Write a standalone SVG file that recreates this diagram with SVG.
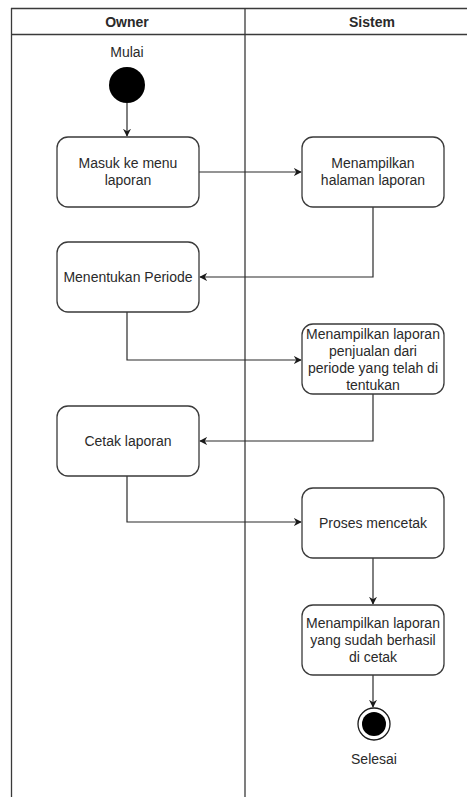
<svg xmlns="http://www.w3.org/2000/svg" width="467" height="797" viewBox="0 0 467 797">
  <style>
    .lane { fill: none; stroke: #3a3a3a; stroke-width: 1.3; }
    .box { fill: #ffffff; stroke: #3a3a3a; stroke-width: 1.3; }
    .t { font-family: "Liberation Sans", Arial, sans-serif; font-size: 14px; fill: #2a2a2a; text-anchor: middle; }
    .h { font-weight: bold; }
    .edge { fill: none; stroke: #2a2a2a; stroke-width: 1.2; marker-end: url(#arr); }
  </style>
  <defs>
    <marker id="arr" viewBox="0 0 10 10" refX="9" refY="5" markerWidth="8" markerHeight="8" markerUnits="userSpaceOnUse" orient="auto">
      <path d="M0,0 L10,5 L0,10 L3,5 Z" fill="#1a1a1a"/>
    </marker>
  </defs>
  <rect width="467" height="797" fill="#ffffff"/>

  <!-- swimlanes -->
  <g id="lanes">
    <line class="lane" x1="11" y1="8.5" x2="467" y2="8.5"/>
    <line class="lane" x1="11" y1="34.5" x2="467" y2="34.5"/>
    <line class="lane" x1="11.5" y1="8" x2="11.5" y2="797"/>
    <line class="lane" x1="245" y1="8" x2="245" y2="797"/>
    <text class="t h" x="127" y="27">Owner</text>
    <text class="t h" x="372" y="27">Sistem</text>
  </g>

  <!-- connectors -->
  <g id="connectors">
    <path class="edge" d="M127,103 V136"/>
    <path class="edge" d="M199,172 H301"/>
    <path class="edge" d="M373,207 V277 H200"/>
    <path class="edge" d="M127,312 V360 H301"/>
    <path class="edge" d="M373,394 V441 H200"/>
    <path class="edge" d="M127,476 V522 H301"/>
    <path class="edge" d="M373,558 V604"/>
    <path class="edge" d="M373,675 V707"/>
  </g>

  <g id="start">
    <text class="t" x="127" y="57">Mulai</text>
    <circle cx="127" cy="85" r="18" fill="#000000"/>
  </g>

  <g id="masuk-menu">
    <rect class="box" x="57" y="137" width="142" height="70" rx="11"/>
    <text class="t" x="128" y="168">Masuk ke menu</text>
    <text class="t" x="128" y="185">laporan</text>
  </g>

  <g id="tampil-halaman">
    <rect class="box" x="302" y="137" width="142" height="70" rx="11"/>
    <text class="t" x="373" y="168">Menampilkan</text>
    <text class="t" x="373" y="185">halaman laporan</text>
  </g>

  <g id="tentukan-periode">
    <rect class="box" x="57" y="242" width="142" height="70" rx="11"/>
    <text class="t" x="128" y="282">Menentukan Periode</text>
  </g>

  <g id="tampil-laporan">
    <rect class="box" x="302" y="324" width="142" height="70" rx="11"/>
    <text class="t" x="373" y="338.5">Menampilkan laporan</text>
    <text class="t" x="373" y="355.5">penjualan dari</text>
    <text class="t" x="373" y="372.5">periode yang telah di</text>
    <text class="t" x="373" y="389.5">tentukan</text>
  </g>

  <g id="cetak-laporan">
    <rect class="box" x="57" y="406" width="142" height="70" rx="11"/>
    <text class="t" x="128" y="446">Cetak laporan</text>
  </g>

  <g id="proses-cetak">
    <rect class="box" x="302" y="488" width="142" height="70" rx="11"/>
    <text class="t" x="373" y="528">Proses mencetak</text>
  </g>

  <g id="hasil-cetak">
    <rect class="box" x="302" y="605" width="142" height="70" rx="11"/>
    <text class="t" x="373" y="628">Menampilkan laporan</text>
    <text class="t" x="373" y="645">yang sudah berhasil</text>
    <text class="t" x="373" y="662">di cetak</text>
  </g>

  <g id="end">
    <circle cx="374" cy="724" r="16" fill="#ffffff" stroke="#1a1a1a" stroke-width="1.3"/>
    <circle cx="374" cy="724" r="12" fill="#000000"/>
    <text class="t" x="374" y="764">Selesai</text>
  </g>
</svg>
